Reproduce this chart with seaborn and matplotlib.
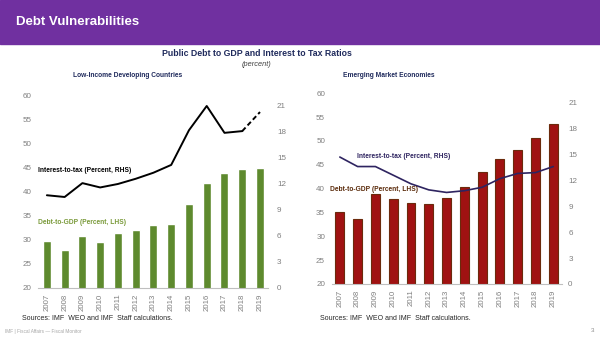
import matplotlib
matplotlib.use("Agg")
import matplotlib.pyplot as plt
from matplotlib.patches import Rectangle
import seaborn as sns

sns.set_theme(style="white")
plt.rcParams["font.family"] = ["Liberation Sans", "DejaVu Sans"]

# ---- data ----
years = list(range(2007, 2020))
lic_debt = [29.7, 28.0, 30.9, 29.6, 31.4, 32.0, 33.1, 33.4, 37.5, 41.9, 43.9, 44.8, 45.0]
lic_interest = [10.7, 10.5, 12.1, 11.6, 12.0, 12.6, 13.3, 14.2, 18.2, 21.0, 17.9, 18.1, 20.3]
eme_debt = [35.2, 33.6, 38.8, 37.8, 36.9, 36.8, 38.0, 40.3, 43.5, 46.3, 48.1, 50.7, 53.6]
eme_interest = [14.7, 13.6, 13.6, 12.6, 11.6, 10.9, 10.6, 10.8, 11.2, 12.2, 12.8, 12.9, 13.6]

lhs_ticks = [20, 25, 30, 35, 40, 45, 50, 55, 60]
rhs_ticks = [0, 3, 6, 9, 12, 15, 18, 21]

W, H = 600, 337
fig = plt.figure(figsize=(W / 100, H / 100), dpi=100)
fig.patch.set_facecolor("white")


def fx(x):
    return x / W


def fy(y):
    return 1 - y / H


# header band
fig.patches.append(Rectangle((0, fy(44)), 1, 44 / H, transform=fig.transFigure,
                             color="#7030A0", zorder=0))
fig.text(fx(16), fy(22), "Debt Vulnerabilities", color="white", fontsize=9.5,
         fontweight="bold", va="center", ha="left")

navy = "#1F2A5C"
fig.text(fx(257), fy(54), "Public Debt to GDP and Interest to Tax Ratios", color=navy,
         fontsize=6.3, fontweight="bold", ha="center", va="center")
fig.text(fx(257), fy(65), "(percent)", color="#404040", fontsize=5.3, style="italic",
         ha="center", va="center")
fig.text(fx(128), fy(75.5), "Low-Income Developing Countries", color=navy, fontsize=4.8,
         fontweight="bold", ha="center", va="center")
fig.text(fx(389), fy(75.5), "Emerging Market Economies", color=navy, fontsize=4.8,
         fontweight="bold", ha="center", va="center")

tick_grey = "#7F7F7F"


def style_axes(ax, twin, xlim, rtop, lpad, rpad):
    ax.set_xlim(*xlim)
    ax.set_ylim(20, 60)
    ax.set_yticks(lhs_ticks)
    twin.set_ylim(0, rtop)
    twin.set_yticks(rhs_ticks)
    ax.set_xticks(years)
    ax.set_xticklabels([str(y) for y in years], rotation=90)
    ax.tick_params(axis="x", length=0, labelsize=5.6, labelcolor=tick_grey, pad=4)
    ax.tick_params(axis="y", length=0, labelsize=5.8, labelcolor=tick_grey, pad=lpad)
    twin.tick_params(axis="y", length=0, labelsize=5.8, labelcolor=tick_grey, pad=rpad)
    for a in (ax, twin):
        for s in ("top", "left", "right"):
            a.spines[s].set_visible(False)
        a.spines["bottom"].set_color("#BFBFBF")
        a.spines["bottom"].set_linewidth(0.8)
        a.set_xlabel("")
        a.set_ylabel("")
        a.grid(False)
    twin.spines["bottom"].set_visible(False)


# ---- Low-income developing countries ----
axL = fig.add_axes([fx(38), fy(288), (268 - 38) / W, (288 - 96) / H])
sns.barplot(x=years, y=lic_debt, native_scale=True, width=0.45, color="#5E8A2E",
            saturation=1, ax=axL)
axL2 = axL.twinx()
sns.lineplot(x=years[:-1], y=lic_interest[:-1], color="black", linewidth=1.4, ax=axL2)
sns.lineplot(x=years[-2:], y=lic_interest[-2:], color="black", linewidth=1.4,
             linestyle=(0, (2.5, 1.5)), ax=axL2)
style_axes(axL, axL2, (2006.5, 2019.45), 22.15, 4.5, 6.5)

fig.text(fx(38), fy(171), "Interest-to-tax (Percent, RHS)", color="black", fontsize=4.8,
         fontweight="bold", ha="left", va="center")
fig.text(fx(38), fy(222), "Debt-to-GDP (Percent, LHS)", color="#7A9A3A", fontsize=4.8,
         fontweight="bold", ha="left", va="center")

# ---- Emerging market economies ----
axR = fig.add_axes([fx(332), fy(284), (562 - 332) / W, (284 - 93.3) / H])
sns.barplot(x=years, y=eme_debt, native_scale=True, width=0.5, color="#A01212",
            saturation=1, edgecolor="#6B2A0C", linewidth=0.8, ax=axR)
axR2 = axR.twinx()
sns.lineplot(x=years, y=eme_interest, color="#2E2460", linewidth=1.2, ax=axR2)
style_axes(axR, axR2, (2006.56, 2019.49), 22.08, 5.0, 4.5)

fig.text(fx(357), fy(157), "Interest-to-tax (Percent, RHS)", color="#2E2460", fontsize=4.8,
         fontweight="bold", ha="left", va="center")
fig.text(fx(330), fy(189), "Debt-to-GDP (Percent, LHS)", color="#5A2A0A", fontsize=4.8,
         fontweight="bold", ha="left", va="center")

# sources and footer
fig.text(fx(22), fy(319), "Sources: IMF  WEO and IMF  Staff calculations.", color="#262626",
         fontsize=5.0, ha="left", va="center")
fig.text(fx(320), fy(319), "Sources: IMF  WEO and IMF  Staff calculations.", color="#262626",
         fontsize=5.0, ha="left", va="center")
fig.text(fx(5), fy(331), "IMF | Fiscal Affairs \u2014 Fiscal Monitor", color="#A6A6A6",
         fontsize=3.4, ha="left", va="center")
fig.text(fx(593), fy(331), "3", color="#8C8C8C", fontsize=4.5, ha="center", va="center")

fig.savefig("out.png", dpi=100, facecolor="white")
